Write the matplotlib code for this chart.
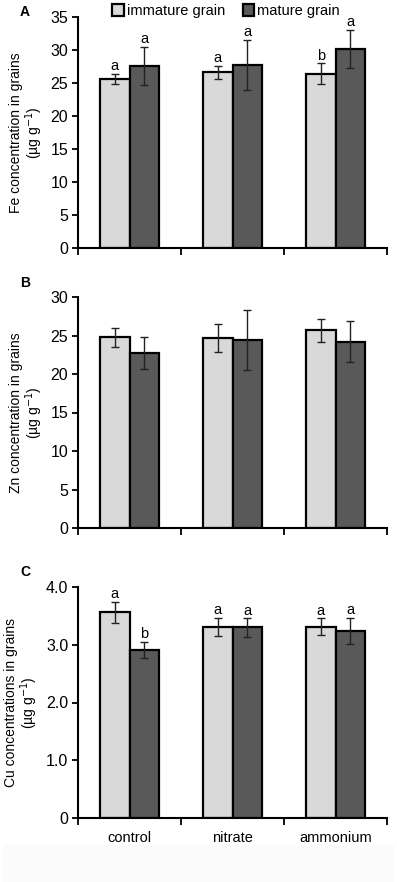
import numpy as np
import matplotlib.pyplot as plt
from matplotlib.patches import Rectangle
from matplotlib.ticker import FixedLocator

plt.rcParams['font.family'] = ['Liberation Sans', 'DejaVu Sans']

groups = ['control', 'nitrate', 'ammonium']
series = ['immature grain', 'mature grain']

fe_imm = [25.6, 26.6, 26.4]
fe_imm_err = [0.8, 1.0, 1.6]
fe_mat = [27.6, 27.7, 30.2]
fe_mat_err = [2.9, 3.8, 2.9]
fe_letters_imm = ['a', 'a', 'b']
fe_letters_mat = ['a', 'a', 'a']

zn_imm = [24.75, 24.7, 25.7]
zn_imm_err = [1.2, 1.85, 1.5]
zn_mat = [22.7, 24.4, 24.2]
zn_mat_err = [2.1, 3.9, 2.7]

cu_imm = [3.56, 3.31, 3.31]
cu_imm_err = [0.18, 0.16, 0.145]
cu_mat = [2.91, 3.30, 3.24]
cu_mat_err = [0.14, 0.16, 0.23]
cu_letters_imm = ['a', 'a', 'a']
cu_letters_mat = ['b', 'a', 'a']

light = '#d9d9d9'
dark = '#595959'

W, H = 397, 882
fig = plt.figure(figsize=(W / 100, H / 100), dpi=100)

# faint band at the bottom of the figure
fig.patches.append(Rectangle((3 / W, 0), 390 / W, (H - 845) / H,
                             transform=fig.transFigure, color='#fbfbfb', zorder=0))


def make_ax(top, bottom):
    return fig.add_axes([78 / W, 1 - bottom / H, (387 - 78) / W, (bottom - top) / H])


axA = make_ax(17, 248)
axB = make_ax(297, 528)
axC = make_ax(587, 818)

x = np.arange(len(groups)) + 0.5
bw = 0.285


def draw(ax, imm, imm_err, mat, mat_err, ymax, yticks, yticklabels, ylabel,
         let_imm=None, let_mat=None, letter_off=0.0):
    b1 = ax.bar(x - bw / 2, imm, bw, color=light, edgecolor='black', lw=1.6, zorder=2,
                label=series[0])
    b2 = ax.bar(x + bw / 2, mat, bw, color=dark, edgecolor='black', lw=1.6, zorder=2,
                label=series[1])
    ax.errorbar(x - bw / 2, imm, yerr=imm_err, fmt='none', ecolor='#222222',
                elinewidth=1, capsize=3, capthick=1, zorder=3)
    ax.errorbar(x + bw / 2, mat, yerr=mat_err, fmt='none', ecolor='#222222',
                elinewidth=1, capsize=3, capthick=1, zorder=3)
    if let_imm:
        for xi, v, e, t in zip(x - bw / 2, imm, imm_err, let_imm):
            ax.text(xi, v + e + letter_off, t, ha='center', va='bottom', fontsize=10.5)
    if let_mat:
        for xi, v, e, t in zip(x + bw / 2, mat, mat_err, let_mat):
            ax.text(xi, v + e + letter_off, t, ha='center', va='bottom', fontsize=10.5)

    ax.set_xlim(0, 3)
    ax.set_ylim(0, ymax)
    ax.set_yticks(yticks)
    ax.set_yticklabels(yticklabels, fontsize=11.5)
    ax.spines['top'].set_visible(False)
    ax.spines['right'].set_visible(False)
    ax.spines['left'].set_linewidth(1.5)
    ax.spines['bottom'].set_linewidth(1.5)
    ax.tick_params(axis='y', direction='out', length=4, width=1.3, pad=3)
    ax.xaxis.set_major_locator(FixedLocator(x))
    ax.xaxis.set_minor_locator(FixedLocator([0, 1, 2, 3]))
    ax.tick_params(axis='x', which='major', length=0, pad=9)
    ax.tick_params(axis='x', which='minor', direction='out', length=5, width=1.3)
    ax.set_xticklabels([])
    ax.set_ylabel(ylabel, fontsize=10, linespacing=1.05, labelpad=4)
    return b1, b2


b1, b2 = draw(axA, fe_imm, fe_imm_err, fe_mat, fe_mat_err, 35, range(0, 36, 5),
              [str(v) for v in range(0, 36, 5)],
              'Fe concentration in grains\n(µg g$^{-1}$)',
              fe_letters_imm, fe_letters_mat, 0.1)
draw(axB, zn_imm, zn_imm_err, zn_mat, zn_mat_err, 30, range(0, 31, 5),
     [str(v) for v in range(0, 31, 5)],
     'Zn concentration in grains\n(µg g$^{-1}$)')
draw(axC, cu_imm, cu_imm_err, cu_mat, cu_mat_err, 4, [0, 1, 2, 3, 4],
     ['0', '1.0', '2.0', '3.0', '4.0'],
     'Cu concentrations in grains\n(µg g$^{-1}$)',
     cu_letters_imm, cu_letters_mat, 0.01)
axC.set_xticklabels(groups, fontsize=10.5)

fig.legend(handles=[b1, b2], labels=series, loc='center', ncol=2,
           bbox_to_anchor=(226 / W, 1 - 11 / H), frameon=False, fontsize=10.5,
           handlelength=0.8, handleheight=0.8, handletextpad=0.2, columnspacing=1.2,
           borderpad=0)

for lab, yy in zip(['A', 'B', 'C'], [12, 283, 572]):
    fig.text(25 / W, 1 - yy / H, lab, fontsize=10, fontweight='bold', ha='center', va='center')

fig.savefig('out.png', dpi=100)
